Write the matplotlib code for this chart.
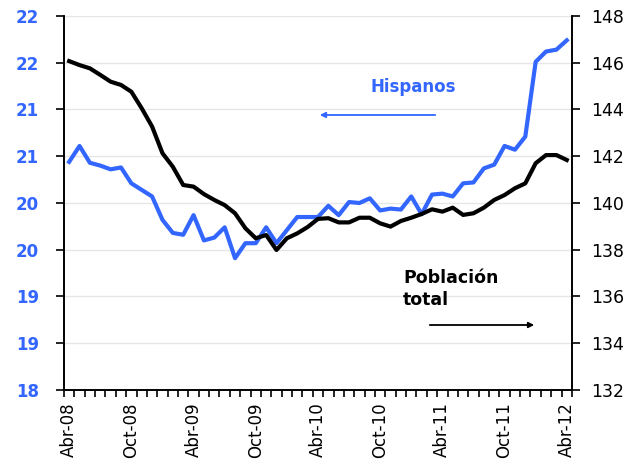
import matplotlib
matplotlib.use("Agg")
import matplotlib.pyplot as plt
import numpy as np

# monthly series, Abr-08 .. Abr-12 (49 months)
hispanos = [20.44, 20.61, 20.43, 20.40, 20.36, 20.38, 20.21, 20.14, 20.07, 19.82,
            19.68, 19.66, 19.87, 19.60, 19.63, 19.74, 19.41, 19.57, 19.57, 19.74,
            19.57, 19.71, 19.85, 19.85, 19.85, 19.97, 19.87, 20.01, 20.00, 20.05,
            19.92, 19.94, 19.93, 20.07, 19.88, 20.09, 20.10, 20.07, 20.21, 20.22,
            20.37, 20.41, 20.61, 20.57, 20.71, 21.51, 21.62, 21.64, 21.74]
poblacion = [146.07, 145.90, 145.76, 145.48, 145.19, 145.05, 144.76, 144.05, 143.27, 142.13,
             141.55, 140.77, 140.70, 140.38, 140.13, 139.91, 139.56, 138.92, 138.49, 138.63,
             137.99, 138.49, 138.70, 138.97, 139.32, 139.35, 139.17, 139.17, 139.37, 139.37,
             139.13, 138.99, 139.23, 139.37, 139.53, 139.73, 139.63, 139.80, 139.49, 139.56,
             139.80, 140.13, 140.34, 140.63, 140.84, 141.70, 142.05, 142.05, 141.84]
x_labels = ["Abr-08", "Oct-08", "Abr-09", "Oct-09", "Abr-10", "Oct-10",
            "Abr-11", "Oct-11", "Abr-12"]
left_ticks = [18, 18.5, 19, 19.5, 20, 20.5, 21, 21.5, 22]
left_labels = ["18", "19", "19", "20", "20", "21", "21", "22", "22"]
right_ticks = [132, 134, 136, 138, 140, 142, 144, 146, 148]

blue = "#3366FF"
x = np.arange(len(hispanos))

fig = plt.figure(figsize=(6.43, 4.65), dpi=100)
ax = fig.add_axes([0.0995, 0.1613, 0.79, 0.8043])
ax2 = ax.twinx()

# grid lines
for t in left_ticks[1:]:
    ax.axhline(t, color="#e6e6e6", lw=1, zorder=0)

ax.plot(x, hispanos, color=blue, lw=3, zorder=3, solid_joinstyle="round")
ax2.plot(x, poblacion, color="black", lw=3, zorder=3, solid_joinstyle="round")

ax.set_xlim(-0.5, len(x) - 0.5)
ax.set_ylim(18, 22)
ax2.set_ylim(132, 148)

ax.set_yticks(left_ticks)
ax.set_yticklabels(left_labels, color=blue, fontweight="bold", fontsize=12)
ax2.set_yticks(right_ticks)
ax2.set_yticklabels([str(t) for t in right_ticks], fontsize=12.5)

ax.set_xticks(np.arange(0, len(x), 6))
ax.set_xticklabels(x_labels, rotation=90, fontsize=12)
ax.set_xticks(np.arange(-0.5, len(x), 1), minor=True)
ax.tick_params(axis="x", which="major", length=0, pad=9)
ax.tick_params(axis="x", which="minor", length=5, width=1.2)
ax.tick_params(axis="y", length=6, width=1.2, pad=12)
ax2.tick_params(axis="y", length=6, width=1.2, pad=8)

for a in (ax, ax2):
    a.spines["top"].set_visible(False)
    for s in ("left", "right", "bottom"):
        a.spines[s].set_linewidth(1.2)

# annotations
fig.text(370 / 643, 1 - 87 / 465, "Hispanos", color=blue, fontweight="bold",
         fontsize=12, va="center")
ax.annotate("", xy=(317, 465 - 115), xytext=(438, 465 - 115),
            xycoords="figure pixels", textcoords="figure pixels",
            arrowprops=dict(arrowstyle="-|>", color=blue, lw=1.3, mutation_scale=8))
fig.text(403 / 643, 1 - 289 / 465, "Población\ntotal", color="black",
         fontweight="bold", fontsize=12.5, va="center", linespacing=1.35)
ax.annotate("", xy=(537, 465 - 325), xytext=(427, 465 - 325),
            xycoords="figure pixels", textcoords="figure pixels",
            arrowprops=dict(arrowstyle="-|>", color="black", lw=1.3, mutation_scale=8))

fig.savefig("out.png", dpi=100)
